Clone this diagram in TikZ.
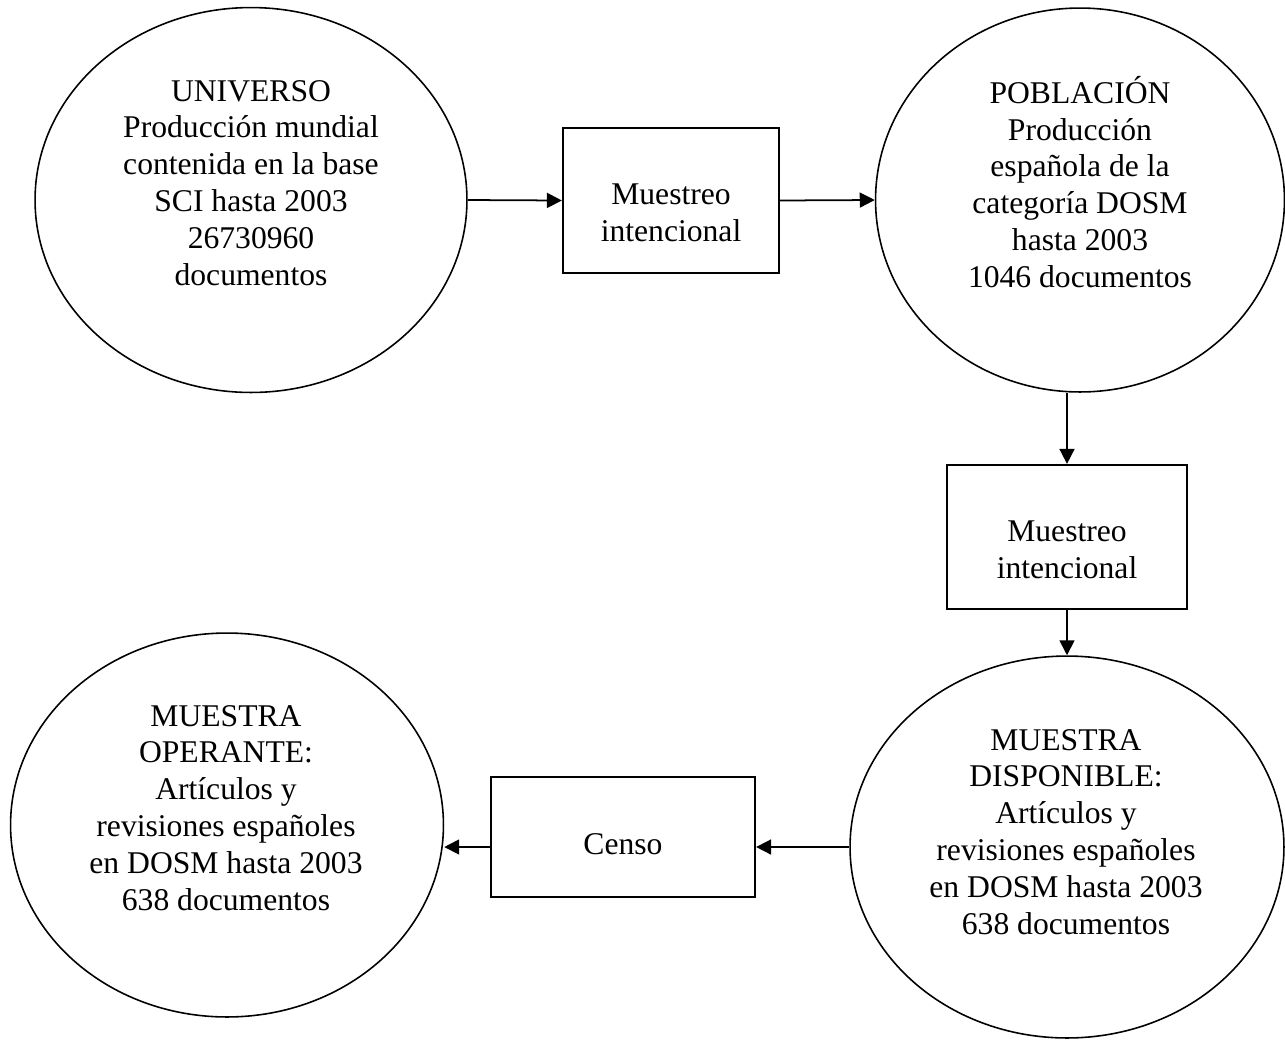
\documentclass[tikz,border=0pt]{standalone}
\usepackage{fontspec}
\setmainfont{Liberation Serif}
\usepackage{tikz}
\usetikzlibrary{shapes,arrows,positioning,calc,arrows.meta}

\tikzset{
    elipse/.style={draw, ellipse, line width=0.9pt, inner sep=0pt},
    caja/.style={draw, rectangle, line width=1.3pt, inner sep=0pt},
    texto/.style={align=center, inner sep=0pt, font=\fontsize{18}{21}\selectfont},
    flecha/.style={-{Triangle[length=0.3cm, width=0.3cm]}, line width=1pt}
}

\begin{document}
\begin{tikzpicture}[x=0.02cm, y=-0.02cm]
    \useasboundingbox (0,0) rectangle (1285,1039);

    % Universo
    \node[elipse, minimum width=8.64cm, minimum height=7.7cm] (universo) at (251,200) {};
    \node[texto] (t-universo) at (251,183) {UNIVERSO\\Producción mundial\\contenida en la base\\SCI hasta 2003\\26730960\\documentos};

    % Poblacion
    \node[elipse, minimum width=8.18cm, minimum height=7.68cm] (poblacion) at (1080,200) {};
    \node[texto] (t-poblacion) at (1080,182) {POBLACIÓN\\Producción\\española de la\\categoría DOSM\\hasta 2003\\1046 documentos};

    % Muestra disponible
    \node[elipse, minimum width=8.68cm, minimum height=7.64cm] (disponible) at (1067,847) {};
    \node[texto] (t-disponible) at (1066,832) {MUESTRA\\DISPONIBLE:\\Artículos y\\revisiones españoles\\en DOSM hasta 2003\\638 documentos};

    % Muestra operante
    \node[elipse, minimum width=8.66cm, minimum height=7.68cm] (operante) at (227,825) {};
    \node[texto] (t-operante) at (226,808) {MUESTRA\\OPERANTE:\\Artículos y\\revisiones españoles\\en DOSM hasta 2003\\638 documentos};

    % Cajas
    \node[caja, minimum width=4.32cm, minimum height=2.9cm] (muestreo1) at (671,200.5) {};
    \node[texto] (t-muestreo1) at (671,213) {Muestreo\\intencional};
    \node[caja, minimum width=4.8cm, minimum height=2.88cm] (muestreo2) at (1067,537) {};
    \node[texto] (t-muestreo2) at (1067,550) {Muestreo\\intencional};
    \node[caja, minimum width=5.28cm, minimum height=2.4cm] (censo) at (623,837) {};
    \node[texto] (t-censo) at (623,844) {Censo};

    % Flechas
    \draw[flecha] (universo.east) -- (muestreo1.west);
    \draw[flecha] (muestreo1.east) -- (poblacion.west);
    \draw[flecha] (poblacion.south -| muestreo2.north) -- (muestreo2.north);
    \draw[flecha] (muestreo2.south) -- (disponible.north);
    \draw[flecha] (disponible.west) -- (disponible.west -| censo.east);
    \draw[flecha] (censo.west |- disponible.west) -- (operante.east |- disponible.west);
\end{tikzpicture}
\end{document}
